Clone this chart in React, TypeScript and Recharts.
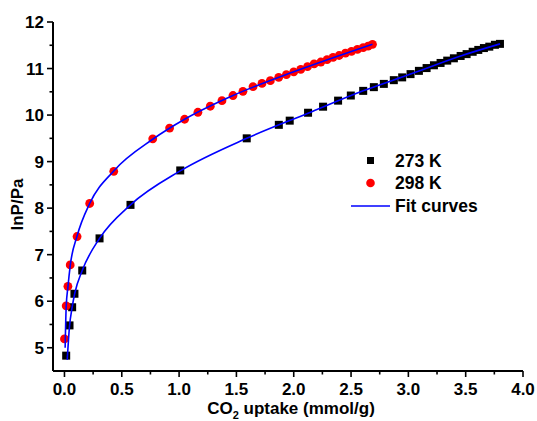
import React from 'react';
import { ComposedChart, XAxis, YAxis, Line, Scatter, Legend, Label } from 'recharts';

const FONT = '"Liberation Sans", Arial, Helvetica, sans-serif';

// 273 K measured points
const x273 = [0.015, 0.044, 0.067, 0.087, 0.155, 0.306, 0.576, 1.01, 1.59, 1.87, 1.965, 2.125, 2.256, 2.387, 2.498, 2.606, 2.699, 2.786, 2.873, 2.946, 3.019, 3.092, 3.159, 3.223, 3.281, 3.339, 3.397, 3.456, 3.508, 3.561, 3.61, 3.659, 3.706, 3.755, 3.799];
const y273 = [4.83, 5.48, 5.87, 6.16, 6.66, 7.35, 8.07, 8.81, 9.5, 9.79, 9.88, 10.05, 10.18, 10.31, 10.42, 10.52, 10.6, 10.67, 10.75, 10.81, 10.88, 10.95, 11.01, 11.07, 11.12, 11.17, 11.22, 11.27, 11.31, 11.36, 11.4, 11.44, 11.47, 11.51, 11.53];

// 298 K measured points
const x298 = [0.0, 0.015, 0.03, 0.05, 0.11, 0.22, 0.43, 0.77, 0.917, 1.048, 1.164, 1.272, 1.374, 1.47, 1.557, 1.645, 1.723, 1.796, 1.869, 1.936, 2.0, 2.061, 2.12, 2.178, 2.236, 2.291, 2.343, 2.396, 2.451, 2.504, 2.556, 2.606, 2.649, 2.687];
const y298 = [5.19, 5.9, 6.32, 6.78, 7.39, 8.1, 8.79, 9.49, 9.72, 9.91, 10.06, 10.19, 10.31, 10.42, 10.51, 10.61, 10.68, 10.74, 10.81, 10.87, 10.93, 10.98, 11.04, 11.1, 11.14, 11.19, 11.24, 11.28, 11.33, 11.37, 11.41, 11.45, 11.48, 11.52];

// Fit curves
const fitX273 = [0.024, 0.044, 0.067, 0.09, 0.155, 0.306, 0.576, 1.01, 1.59, 2.125, 2.606, 3.019, 3.456, 3.8];
const fitY273 = [4.74, 5.46, 5.87, 6.17, 6.66, 7.35, 8.07, 8.8, 9.5, 10.04, 10.52, 10.88, 11.27, 11.53];
const fitX298 = [0.006, 0.015, 0.03, 0.05, 0.11, 0.22, 0.43, 0.77, 1.048, 1.47, 2.0, 2.4, 2.687];
const fitY298 = [5.0, 5.88, 6.3, 6.76, 7.4, 8.1, 8.8, 9.48, 9.91, 10.42, 10.93, 11.28, 11.52];

// Ticks
const xTicks = [0, 0.25, 0.5, 0.75, 1, 1.25, 1.5, 1.75, 2, 2.25, 2.5, 2.75, 3, 3.25, 3.5, 3.75, 4];
const yTicks = [5, 5.5, 6, 6.5, 7, 7.5, 8, 8.5, 9, 9.5, 10, 10.5, 11, 11.5, 12];
const xDomain = [-0.1, 4.0];
const yDomain = [4.5, 12];

const seriesNames = ['273 K', '298 K', 'Fit curves'];

const zip = (xs: number[], ys: number[]) => xs.map((x, i) => ({ x, y: ys[i] }));
const d273 = zip(x273, y273);
const d298 = zip(x298, y298);
const f273 = zip(fitX273, fitY273);
const f298 = zip(fitX298, fitY298);

const TICK_SIZE = 6;

const XTick = (props: any) => {
  const { x, y, payload } = props;
  const v = payload.value as number;
  const major = Math.abs(v * 2 - Math.round(v * 2)) < 1e-6;
  const axisY = y - TICK_SIZE;
  return (
    <g>
      <line x1={x} x2={x} y1={axisY} y2={axisY + (major ? 6 : 3.5)} stroke="#000" strokeWidth={1.6} />
      {major && (
        <text x={x} y={axisY + 24} textAnchor="middle" fontFamily={FONT} fontWeight="bold" fontSize={17} fill="#000">
          {v.toFixed(1)}
        </text>
      )}
    </g>
  );
};

const YTick = (props: any) => {
  const { x, y, payload } = props;
  const v = payload.value as number;
  const major = Math.abs(v - Math.round(v)) < 1e-6;
  const axisX = x + TICK_SIZE;
  return (
    <g>
      <line x1={axisX} x2={axisX - (major ? 6 : 3.5)} y1={y} y2={y} stroke="#000" strokeWidth={1.6} />
      {major && (
        <text x={axisX - 9} y={y + 6} textAnchor="end" fontFamily={FONT} fontWeight="bold" fontSize={17} fill="#000">
          {String(v)}
        </text>
      )}
    </g>
  );
};

const XTitle = (props: any) => {
  const vb = props.viewBox || {};
  const cx = vb.x + vb.width / 2 + 3;
  const ty = vb.y + 42.5;
  return (
    <text x={cx} y={ty} textAnchor="middle" fontFamily={FONT} fontWeight="bold" fontSize={17} fill="#000">
      CO<tspan fontSize={11} dy={5}>2</tspan>
      <tspan dy={-5}> uptake (mmol/g)</tspan>
    </text>
  );
};

const YTitle = (props: any) => {
  const vb = props.viewBox || {};
  const cx = vb.x + 4;
  const cy = vb.y + vb.height / 2 + 8;
  return (
    <text
      x={cx}
      y={cy}
      transform={`rotate(-90, ${cx}, ${cy})`}
      textAnchor="middle"
      dominantBaseline="central"
      fontFamily={FONT}
      fontWeight="bold"
      fontSize={17}
      fill="#000"
    >
      lnP/Pa
    </text>
  );
};

const SquareShape = (props: any) => {
  const { cx, cy } = props;
  if (cx == null || cy == null) return null;
  return <rect x={cx - 4} y={cy - 4} width={8} height={8} fill="#000" />;
};

const CircleShape = (props: any) => {
  const { cx, cy } = props;
  if (cx == null || cy == null) return null;
  return <circle cx={cx} cy={cy} r={4.4} fill="#ff0000" />;
};

const LegendContent = () => (
  <svg width={150} height={70} style={{ display: 'block' }}>
    <rect x={19} y={9} width={7} height={7} fill="#000" />
    <text x={47} y={19} fontFamily={FONT} fontWeight="bold" fontSize={17.5} fill="#000">{seriesNames[0]}</text>
    <circle cx={22.5} cy={35} r={4.3} fill="#ff0000" />
    <text x={47} y={41} fontFamily={FONT} fontWeight="bold" fontSize={17.5} fill="#000">{seriesNames[1]}</text>
    <line x1={3} x2={42} y1={58} y2={58} stroke="#0000ff" strokeWidth={1.6} />
    <text x={47} y={64} fontFamily={FONT} fontWeight="bold" fontSize={17.5} fill="#000">{seriesNames[2]}</text>
  </svg>
);

export default function App() {
  const extra: any = {};
  return (
    <div style={{ position: 'absolute', left: 0, top: 0, background: '#fff' }}>
      <ComposedChart width={537} height={421} margin={{ top: 22, right: 14, bottom: 15, left: 13 }}>
        <XAxis
          dataKey="x"
          type="number"
          domain={xDomain}
          ticks={xTicks}
          interval={0}
          allowDataOverflow
          tickLine={false}
          tickSize={TICK_SIZE}
          tickMargin={0}
          tick={<XTick />}
          axisLine={{ stroke: '#000', strokeWidth: 2 }}
          height={35}
        >
          <Label content={<XTitle />} />
        </XAxis>
        <YAxis
          type="number"
          domain={yDomain}
          ticks={yTicks}
          interval={0}
          allowDataOverflow
          tickLine={false}
          tickSize={TICK_SIZE}
          tickMargin={0}
          tick={<YTick />}
          axisLine={{ stroke: '#000', strokeWidth: 2 }}
          width={40}
        >
          <Label content={<YTitle />} />
        </YAxis>
        <Scatter name={seriesNames[0]} data={d273} dataKey="y" shape={<SquareShape />} isAnimationActive={false} zIndex={300} {...extra} />
        <Scatter name={seriesNames[1]} data={d298} dataKey="y" shape={<CircleShape />} isAnimationActive={false} zIndex={300} {...extra} />
        <Line name={seriesNames[2]} data={f273} dataKey="y" type="monotone" stroke="#0000ff" strokeWidth={1.6} dot={false} activeDot={false} isAnimationActive={false} zIndex={900} {...extra} />
        <Line name={seriesNames[2] + ' 298'} data={f298} dataKey="y" type="monotone" stroke="#0000ff" strokeWidth={1.6} dot={false} activeDot={false} isAnimationActive={false} zIndex={900} {...extra} />
        <Legend
          layout="horizontal"
          verticalAlign="middle"
          align="center"
          content={<LegendContent />}
          wrapperStyle={{ position: 'absolute', left: 348, top: 148, width: 150, height: 70 }}
        />
      </ComposedChart>
    </div>
  );
}
